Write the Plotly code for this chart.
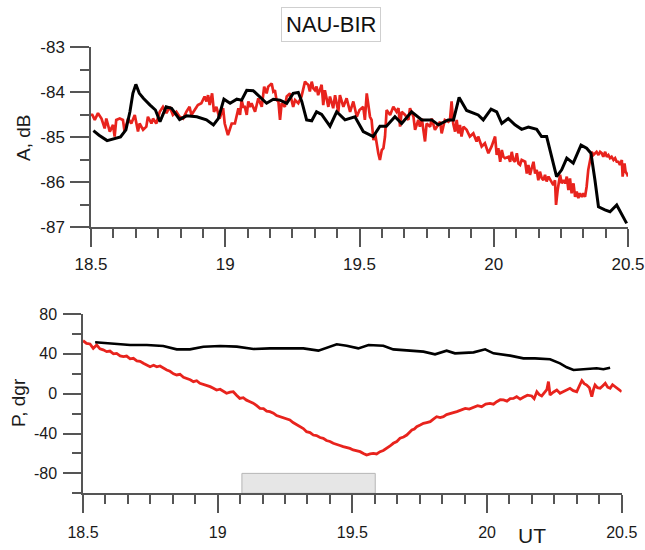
import plotly.graph_objects as go

# ---------------- data ----------------
# Top panel: amplitude A, dB versus UT (hours)
a_red_t = [18.500, 18.505, 18.514, 18.526, 18.539, 18.551, 18.557, 18.570, 18.582, 18.588, 18.594, 18.607,
           18.619, 18.625, 18.638, 18.650, 18.663, 18.675, 18.681, 18.694, 18.706, 18.712, 18.725, 18.731,
           18.743, 18.756, 18.768, 18.781, 18.793, 18.805, 18.818, 18.830, 18.843, 18.855, 18.867, 18.874,
           18.886, 18.898, 18.911, 18.923, 18.930, 18.936, 18.942, 18.951, 18.958, 18.967, 18.979, 18.992,
           18.998, 19.010, 19.024, 19.036, 19.049, 19.055, 19.061, 19.067, 19.073, 19.080, 19.086, 19.092,
           19.098, 19.111, 19.123, 19.136, 19.145, 19.154, 19.160, 19.173, 19.179, 19.185, 19.191, 19.198,
           19.204, 19.210, 19.222, 19.229, 19.241, 19.253, 19.260, 19.272, 19.284, 19.297, 19.303, 19.309,
           19.315, 19.322, 19.328, 19.334, 19.340, 19.346, 19.359, 19.365, 19.371, 19.384, 19.390, 19.402,
           19.409, 19.421, 19.427, 19.440, 19.452, 19.465, 19.477, 19.490, 19.500, 19.514, 19.520, 19.527,
           19.533, 19.539, 19.545, 19.552, 19.558, 19.564, 19.570, 19.576, 19.583, 19.589, 19.595, 19.601,
           19.614, 19.626, 19.638, 19.645, 19.651, 19.657, 19.670, 19.682, 19.688, 19.701, 19.707, 19.719,
           19.725, 19.732, 19.744, 19.750, 19.763, 19.769, 19.781, 19.800, 19.806, 19.818, 19.831, 19.837,
           19.843, 19.849, 19.856, 19.862, 19.868, 19.874, 19.880, 19.887, 19.899, 19.911, 19.924, 19.936,
           19.942, 19.955, 19.967, 19.980, 19.992, 20.005, 20.011, 20.017, 20.024, 20.030, 20.036, 20.042,
           20.055, 20.061, 20.067, 20.073, 20.079, 20.086, 20.092, 20.098, 20.104, 20.117, 20.123, 20.129,
           20.135, 20.141, 20.148, 20.154, 20.160, 20.166, 20.172, 20.179, 20.185, 20.191, 20.197, 20.204,
           20.216, 20.222, 20.228, 20.232, 20.238, 20.247, 20.253, 20.259, 20.266, 20.272, 20.278, 20.284,
           20.290, 20.297, 20.303, 20.309, 20.315, 20.321, 20.328, 20.334, 20.340, 20.346, 20.352, 20.359,
           20.365, 20.371, 20.377, 20.383, 20.390, 20.396, 20.402, 20.408, 20.415, 20.421, 20.427, 20.433,
           20.439, 20.446, 20.452, 20.458, 20.464, 20.470, 20.477, 20.480, 20.487, 20.491, 20.498, 20.500]
a_red = [-84.50, -84.51, -84.62, -84.47, -84.59, -84.81, -84.59, -84.88, -84.73, -84.99, -84.62, -84.59,
         -84.62, -84.88, -84.59, -84.70, -84.51, -84.88, -84.70, -84.84, -84.77, -84.55, -84.70, -84.59,
         -84.70, -84.44, -84.33, -84.47, -84.33, -84.51, -84.44, -84.55, -84.59, -84.44, -84.33, -84.51,
         -84.40, -84.29, -84.25, -84.10, -84.21, -84.07, -84.29, -84.03, -84.44, -84.33, -84.59, -84.36,
         -84.70, -84.96, -84.70, -84.70, -84.36, -84.51, -84.18, -84.33, -84.33, -84.51, -84.21, -84.33,
         -84.25, -84.44, -84.14, -84.33, -83.88, -84.03, -83.88, -83.81, -83.99, -83.96, -84.18, -84.21,
         -84.62, -84.25, -84.33, -84.10, -84.03, -84.33, -84.18, -84.25, -84.10, -83.77, -83.81, -83.84,
         -83.99, -83.77, -83.92, -83.96, -83.88, -84.07, -83.84, -84.29, -83.96, -84.33, -84.10, -84.36,
         -84.07, -84.44, -84.07, -84.33, -84.14, -84.44, -84.21, -84.55, -84.40, -84.33, -84.62, -84.03,
         -84.29, -84.55, -84.62, -85.07, -84.92, -85.18, -85.36, -85.51, -85.29, -85.25, -84.99, -84.40,
         -84.51, -84.33, -84.44, -84.36, -84.77, -84.44, -84.51, -84.62, -84.36, -84.55, -84.84, -84.62,
         -84.77, -84.59, -85.10, -84.70, -84.77, -84.59, -84.84, -84.66, -84.92, -84.62, -84.66, -84.62,
         -84.21, -84.70, -84.88, -84.62, -84.92, -84.73, -84.99, -84.77, -84.84, -84.99, -84.92, -85.10,
         -84.99, -85.21, -85.14, -85.36, -85.21, -84.99, -85.40, -85.25, -85.55, -85.29, -85.44, -85.47,
         -85.44, -85.55, -85.33, -85.51, -85.55, -85.36, -85.59, -85.62, -85.51, -85.55, -85.81, -85.62,
         -85.84, -85.70, -85.55, -85.81, -85.73, -85.96, -85.77, -85.92, -85.96, -85.84, -85.99, -85.88,
         -85.99, -86.07, -85.96, -86.51, -86.18, -85.84, -86.03, -85.96, -86.03, -85.88, -86.18, -85.92,
         -86.25, -86.03, -86.33, -86.21, -86.36, -86.25, -86.33, -86.25, -86.33, -86.10, -85.73, -85.51,
         -85.33, -85.40, -85.36, -85.33, -85.40, -85.33, -85.36, -85.44, -85.33, -85.44, -85.40, -85.47,
         -85.44, -85.51, -85.47, -85.55, -85.55, -85.62, -85.51, -85.88, -85.59, -85.77, -85.84, -85.88]

a_black_t = [18.509, 18.530, 18.560, 18.590, 18.610, 18.630, 18.645, 18.656, 18.667, 18.680, 18.695, 18.720,
             18.740, 18.757, 18.780, 18.800, 18.830, 18.856, 18.894, 18.930, 18.956, 18.974, 18.995, 19.018,
             19.043, 19.061, 19.080, 19.104, 19.129, 19.154, 19.179, 19.204, 19.229, 19.253, 19.272, 19.285,
             19.303, 19.322, 19.340, 19.359, 19.378, 19.390, 19.415, 19.446, 19.483, 19.514, 19.551, 19.576,
             19.600, 19.632, 19.657, 19.694, 19.732, 19.769, 19.794, 19.830, 19.850, 19.871, 19.899, 19.942,
             19.961, 19.990, 20.011, 20.030, 20.054, 20.079, 20.104, 20.129, 20.160, 20.178, 20.197, 20.218,
             20.234, 20.253, 20.272, 20.296, 20.325, 20.346, 20.362, 20.377, 20.390, 20.414, 20.433, 20.458,
             20.495]
a_black = [-84.86, -84.96, -85.08, -85.03, -85.00, -84.84, -84.44, -84.03, -83.83, -84.03, -84.14, -84.29,
           -84.40, -84.66, -84.33, -84.36, -84.61, -84.53, -84.55, -84.62, -84.73, -84.59, -84.16, -84.25,
           -84.16, -84.18, -83.96, -83.97, -84.10, -84.25, -84.16, -84.18, -84.25, -84.03, -84.01, -84.21,
           -84.62, -84.64, -84.44, -84.50, -84.66, -84.76, -84.44, -84.62, -84.55, -84.88, -84.99, -84.76,
           -84.76, -84.55, -84.70, -84.44, -84.62, -84.62, -84.73, -84.62, -84.62, -84.12, -84.41, -84.51,
           -84.62, -84.38, -84.44, -84.70, -84.59, -84.73, -84.83, -84.78, -84.83, -84.99, -84.99, -85.51,
           -85.88, -85.73, -85.47, -85.58, -85.18, -85.25, -85.36, -85.96, -86.55, -86.62, -86.66, -86.51,
           -86.92]

# Bottom panel: phase P, dgr versus UT (hours)
p_red_t = [18.500, 18.513, 18.526, 18.538, 18.551, 18.563, 18.575, 18.588, 18.600, 18.613, 18.625, 18.638,
           18.650, 18.662, 18.675, 18.687, 18.700, 18.712, 18.724, 18.737, 18.749, 18.762, 18.774, 18.786,
           18.799, 18.811, 18.823, 18.836, 18.848, 18.860, 18.873, 18.885, 18.898, 18.910, 18.922, 18.934,
           18.947, 18.959, 18.972, 18.984, 18.996, 19.009, 19.021, 19.033, 19.046, 19.058, 19.070, 19.082,
           19.095, 19.107, 19.120, 19.132, 19.145, 19.157, 19.170, 19.182, 19.194, 19.207, 19.219, 19.231,
           19.243, 19.256, 19.268, 19.280, 19.293, 19.305, 19.318, 19.330, 19.343, 19.355, 19.367, 19.380,
           19.392, 19.404, 19.417, 19.429, 19.441, 19.454, 19.466, 19.478, 19.491, 19.503, 19.516, 19.529,
           19.541, 19.553, 19.566, 19.578, 19.590, 19.603, 19.615, 19.628, 19.640, 19.652, 19.665, 19.677,
           19.690, 19.702, 19.714, 19.721, 19.730, 19.739, 19.752, 19.764, 19.776, 19.789, 19.801, 19.813,
           19.826, 19.838, 19.850, 19.863, 19.875, 19.888, 19.903, 19.919, 19.934, 19.949, 19.965, 19.980,
           19.995, 20.011, 20.024, 20.036, 20.049, 20.061, 20.074, 20.086, 20.098, 20.110, 20.123, 20.135,
           20.150, 20.166, 20.175, 20.185, 20.194, 20.203, 20.212, 20.222, 20.228, 20.234, 20.246, 20.259,
           20.271, 20.284, 20.296, 20.308, 20.320, 20.333, 20.343, 20.352, 20.361, 20.370, 20.380, 20.389,
           20.395, 20.401, 20.410, 20.420, 20.430, 20.439, 20.448, 20.457, 20.466, 20.476, 20.488, 20.500]
p_red = [53.2, 50.5, 49.9, 45.5, 48.9, 45.0, 44.0, 42.2, 42.8, 40.0, 40.5, 38.0,
         37.2, 37.8, 35.0, 35.5, 33.0, 32.5, 30.5, 29.0, 27.1, 28.5, 27.0, 27.8,
         25.5, 23.8, 22.5, 20.0, 18.8, 19.5, 16.5, 15.4, 14.0, 12.1, 13.0, 10.4,
         9.5, 8.0, 7.1, 5.5, 3.7, 4.5, 2.0, 0.4, 1.5, 2.0, -1.5, -4.7,
         -4.0, -6.5, -8.0, -9.5, -12.0, -14.7, -15.0, -17.5, -18.0, -19.5, -22.0, -23.1,
         -24.0, -25.5, -26.4, -29.0, -31.0, -33.1, -35.0, -38.1, -39.0, -41.5, -42.0, -44.0,
         -44.8, -47.0, -48.0, -49.8, -50.5, -52.0, -53.2, -54.0, -54.9, -56.5, -57.0, -58.2,
         -60.0, -61.6, -60.5, -59.9, -60.5, -58.2, -57.0, -54.9, -52.5, -49.8, -48.0, -44.8,
         -43.5, -41.5, -38.0, -36.5, -35.5, -33.1, -31.5, -29.8, -29.0, -28.1, -25.5, -23.1,
         -24.0, -23.1, -21.0, -19.7, -19.0, -18.0, -16.0, -14.7, -15.5, -13.7, -12.0, -13.0,
         -10.5, -9.7, -10.5, -8.0, -6.0, -6.3, -7.5, -5.0, -4.7, -3.0, -5.5, -3.6,
         -1.5, -2.3, -5.0, 2.0, -1.0, -2.3, 1.0, 4.0, 12.1, -1.3, 1.5, 3.7,
         0.5, 2.0, 4.0, 5.4, 3.0, 2.0, 8.0, 13.1, 10.0, 8.7, 6.0, -3.0,
         4.0, 8.7, 6.0, 5.4, 8.0, 10.4, 6.5, 5.4, 9.0, 7.1, 4.0, 2.0]

p_black_t = [18.545, 18.613, 18.675, 18.737, 18.798, 18.848, 18.897, 18.947, 19.009, 19.071, 19.133, 19.194,
             19.256, 19.318, 19.374, 19.411, 19.442, 19.479, 19.522, 19.560, 19.615, 19.652, 19.714, 19.764,
             19.807, 19.850, 19.881, 19.950, 19.993, 20.024, 20.086, 20.135, 20.178, 20.234, 20.271, 20.296,
             20.321, 20.358, 20.407, 20.432, 20.457]
p_black = [51.6, 49.9, 48.9, 48.9, 47.9, 44.5, 44.5, 47.2, 47.9, 47.2, 44.9, 45.5,
           45.5, 45.5, 43.2, 46.6, 49.6, 48.2, 45.5, 48.9, 48.2, 44.5, 43.2, 42.2,
           39.5, 43.2, 40.5, 41.5, 44.5, 40.5, 38.2, 35.5, 35.5, 34.5, 30.5, 26.5,
           23.8, 24.5, 25.5, 24.5, 26.1]

# Shaded interval on the bottom panel (UT start, end; P bottom, top)
band_t = [19.09, 19.585]
band_p = [-100, -80]

# Tick labels
x_ticks = [18.5, 19, 19.5, 20, 20.5]
x_ticktext = ["18.5", "19", "19.5", "20", "20.5"]
a_ticks = [-87, -86, -85, -84, -83]
a_ticktext = ["-87", "-86", "-85", "-84", "-83"]
p_ticks = [-80, -40, 0, 40, 80]
p_ticktext = ["-80", "-40", "0", "40", "80"]

# ---------------- figure ----------------
W, H = 645, 550
RED = "#e8231d"
AX = "#555555"
FONT = "Liberation Sans, Arial, sans-serif"


def px_x(p):
    return p / W


def px_y(p):
    return 1 - p / H


fig = go.Figure()
fig.add_trace(go.Scatter(x=a_red_t, y=a_red, mode="lines", line=dict(color=RED, width=2.7),
                         xaxis="x", yaxis="y", showlegend=False))
fig.add_trace(go.Scatter(x=a_black_t, y=a_black, mode="lines", line=dict(color="black", width=3),
                         xaxis="x", yaxis="y", showlegend=False))
fig.add_trace(go.Scatter(x=p_red_t, y=p_red, mode="lines", line=dict(color=RED, width=2.8),
                         xaxis="x2", yaxis="y2", showlegend=False))
fig.add_trace(go.Scatter(x=p_black_t, y=p_black, mode="lines", line=dict(color="black", width=2.6),
                         xaxis="x2", yaxis="y2", showlegend=False))

fig.add_shape(type="rect", xref="x2", yref="y2", x0=band_t[0], x1=band_t[1], y0=band_p[0], y1=band_p[1],
              fillcolor="#e6e6e6", line=dict(color="#b5b5b5", width=1), layer="below")

common_x = dict(range=[18.5, 20.5], showline=True, linecolor=AX, linewidth=1.5, ticks="outside",
                ticklen=18, tickwidth=1.5, tickcolor=AX, tickmode="array", tickvals=x_ticks,
                ticktext=x_ticktext, showgrid=False, zeroline=False, automargin=False,
                minor=dict(tickmode="linear", tick0=18.5, dtick=1 / 12, ticks="outside", ticklen=9,
                           tickwidth=1.5, tickcolor=AX, showgrid=False))

fig.update_layout(
    width=W, height=H, margin=dict(l=0, r=0, t=0, b=0, autoexpand=False),
    paper_bgcolor="white", plot_bgcolor="white",
    font=dict(family=FONT, color="#1a1a1a"),
    xaxis=dict(common_x, domain=[px_x(91), px_x(628)], anchor="y",
               tickfont=dict(size=17), ticklabelstandoff=3),
    yaxis=dict(domain=[px_y(227), px_y(47)], anchor="x", range=[-87, -83], showline=True,
               linecolor=AX, linewidth=1.5, ticks="outside", ticklen=19, tickwidth=1.5, tickcolor=AX,
               tickmode="array", tickvals=a_ticks, ticktext=a_ticktext, showgrid=False, zeroline=False,
               tickfont=dict(size=17), ticklabelstandoff=2, automargin=False,
               minor=dict(tickmode="linear", tick0=-87, dtick=0.5, ticks="outside", ticklen=9,
                          tickwidth=1.5, tickcolor=AX, showgrid=False)),
    xaxis2=dict(common_x, domain=[px_x(83), px_x(621.7)], anchor="y2",
                tickfont=dict(size=16), ticklabelstandoff=6),
    yaxis2=dict(domain=[px_y(493.3), px_y(314)], anchor="x2", range=[-100, 80], showline=True,
                linecolor=AX, linewidth=1.5, ticks="outside", ticklen=18, tickwidth=1.5, tickcolor=AX,
                tickmode="array", tickvals=p_ticks, ticktext=p_ticktext, showgrid=False, zeroline=False,
                tickfont=dict(size=16), ticklabelstandoff=3, automargin=False,
                minor=dict(tickmode="linear", tick0=-100, dtick=20, ticks="outside", ticklen=9,
                           tickwidth=1.5, tickcolor=AX, showgrid=False)),
)

fig.add_annotation(text="NAU-BIR", xref="paper", yref="paper", x=px_x(331), y=px_y(24),
                   xanchor="center", yanchor="middle", showarrow=False,
                   font=dict(size=22, family=FONT, color="#111"),
                   bordercolor="#cfcfcf", borderwidth=1, borderpad=4, bgcolor="white")
fig.add_annotation(text="A, dB", xref="paper", yref="paper", x=px_x(23), y=px_y(138),
                   xanchor="center", yanchor="middle", textangle=-90, showarrow=False,
                   font=dict(size=19, family=FONT, color="#1a1a1a"))
fig.add_annotation(text="P, dgr", xref="paper", yref="paper", x=px_x(18), y=px_y(403),
                   xanchor="center", yanchor="middle", textangle=-90, showarrow=False,
                   font=dict(size=19, family=FONT, color="#1a1a1a"))
fig.add_annotation(text="UT", xref="paper", yref="paper", x=px_x(532), y=px_y(549),
                   xanchor="center", yanchor="bottom", showarrow=False,
                   font=dict(size=21, family=FONT, color="#1a1a1a"))

fig.write_html("out.html", config={"displayModeBar": False},
               post_script="document.body.style.margin='0';document.body.style.overflow='hidden';")
